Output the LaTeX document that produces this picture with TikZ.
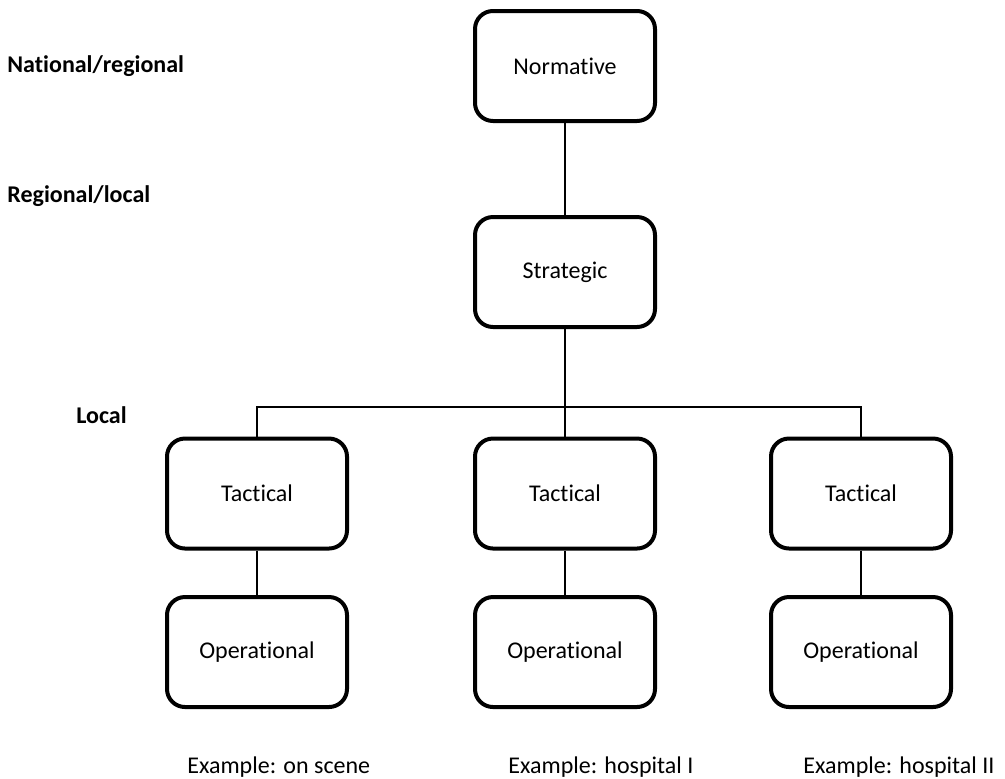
\documentclass[tikz,border=0pt]{standalone}
\usepackage{fontspec}
\setmainfont{Carlito}[Ligatures=NoCommon]
\begin{document}
\begin{tikzpicture}[x=0.5pt,y=-0.5pt,
  level/.style={draw=black, line width=2pt, rounded corners=9pt, fill=white,
    minimum width=90pt, minimum height=55pt, inner sep=0pt,
    font=\fontsize{12}{14}\selectfont},
  tier/.style={anchor=base west, inner sep=0pt, font=\fontsize{12}{14}\selectfont\bfseries},
  example/.style={anchor=base west, inner sep=0pt, font=\fontsize{12}{14}\selectfont},
  link/.style={draw=black, line width=0.75pt}]
  \useasboundingbox (0,0) rectangle (1005,778);

  % hierarchy boxes
  \node[level] (norm)  at (565,66)    {Normative};
  \node[level] (strat) at (565,272)   {Strategic};
  \node[level] (tac1)  at (257,493.5) {Tactical};
  \node[level] (tac2)  at (565,493.5) {Tactical};
  \node[level] (tac3)  at (861,493.5) {Tactical};
  \node[level] (op1)   at (257,652)   {Operational};
  \node[level] (op2)   at (565,652)   {Operational};
  \node[level] (op3)   at (861,652)   {Operational};

  % connectors
  \coordinate (split) at (565,407);
  \draw[link] (norm.south) -- (strat.north);
  \draw[link] (strat.south) -- (tac2.north);
  \draw[link] (tac1.north) |- (split) -| (tac3.north);
  \draw[link] (tac1.south) -- (op1.north);
  \draw[link] (tac2.south) -- (op2.north);
  \draw[link] (tac3.south) -- (op3.north);

  % level labels
  \node[tier] (l1) at (7,72)  {National/regional};
  \node[tier] (l2) at (7,202) {Regional/local};
  \node[tier] (l3) at (76,423) {Local};

  % examples
  \node[example] (e1) at (187,773) {Example: on scene};
  \node[example] (e2) at (508,773) {Example: hospital I};
  \node[example] (e3) at (803,773) {Example: hospital II};
\end{tikzpicture}
\end{document}
